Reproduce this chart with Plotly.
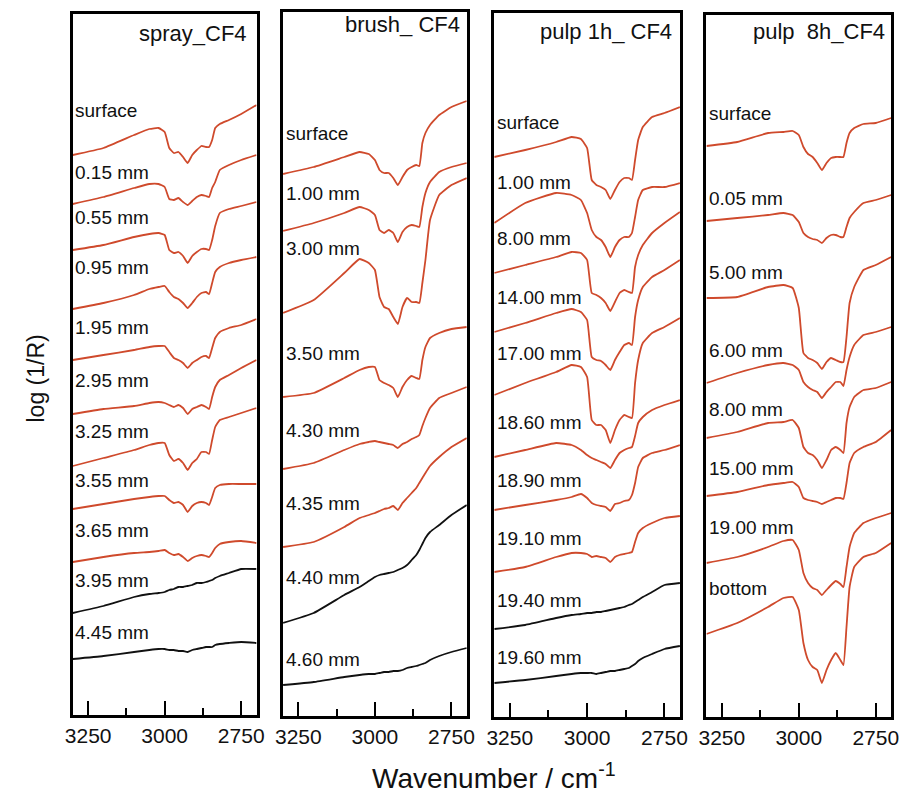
import plotly.graph_objects as go

# ---------------- DATA ----------------
WN = [3300, 3200, 3100, 3050, 3020, 3000, 2985, 2970, 2955, 2940, 2925,
      2910, 2895, 2880, 2865, 2855, 2845, 2835, 2820, 2790, 2750, 2700]

TICK_VALS = [3250, 3000, 2750]
TICK_TEXT = ["3250", "3000", "2750"]
MINOR_TICK_VALS = [3125, 2875]

PANEL_TITLES = ["spray_CF4", "brush_ CF4", "pulp 1h_ CF4", "pulp\u00a0 8h_CF4"]

SPRAY_LABELS = ["surface", "0.15 mm", "0.55 mm", "0.95 mm", "1.95 mm", "2.95 mm",
                "3.25 mm", "3.55 mm", "3.65 mm", "3.95 mm", "4.45 mm"]
SPRAY_Y = [
    [561, 568, 581, 587, 588, 584, 568, 563, 564, 559, 553, 561, 566, 570, 569, 569, 576, 588, 592, 596, 602, 611],
    [512, 519, 528, 532, 532, 529, 517, 516, 518, 514, 511, 515, 519, 521, 520, 519, 528, 534, 546, 551, 556, 561],
    [466, 471, 479, 482, 483, 481, 466, 463, 464, 460, 453, 460, 464, 467, 467, 466, 476, 490, 503, 507, 510, 514],
    [407, 413, 421, 427, 429, 430, 424, 419, 417, 413, 408, 413, 419, 423, 424, 422, 433, 444, 449, 453, 456, 459],
    [356, 361, 366, 369, 370, 370, 364, 358, 356, 353, 348, 353, 356, 359, 360, 358, 368, 378, 384, 388, 391, 397],
    [302, 307, 310, 313, 314, 313, 311, 309, 311, 308, 302, 307, 309, 311, 309, 307, 319, 329, 336, 341, 348, 356],
    [250, 258, 266, 271, 273, 273, 261, 255, 257, 253, 246, 253, 257, 264, 264, 262, 276, 289, 296, 299, 303, 308],
    [207, 212, 217, 219, 220, 220, 216, 213, 214, 211, 204, 210, 213, 214, 213, 211, 219, 228, 231, 232, 232, 232],
    [154, 159, 163, 164, 165, 166, 163, 161, 162, 159, 155, 158, 160, 161, 160, 159, 163, 168, 172, 174, 175, 173],
    [103, 110, 119, 122, 123, 124, 126, 127, 129, 129, 130, 131, 133, 133, 134, 135, 136, 138, 140, 143, 147, 147],
    [57, 60, 64, 66, 67, 67, 66, 66, 65, 65, 64, 66, 67, 68, 69, 69, 69, 71, 72, 73, 74, 73],
]

BRUSH_LABELS = ["surface", "1.00 mm", "3.00 mm", "3.50 mm", "4.30 mm", "4.35 mm",
                "4.40 mm", "4.60 mm"]
BRUSH_Y = [
    [542, 549, 559, 564, 562, 556, 546, 543, 543, 538, 531, 539, 546, 549, 551, 550, 573, 583, 591, 601, 609, 615],
    [485, 493, 503, 509, 506, 501, 486, 483, 486, 483, 474, 484, 489, 491, 490, 489, 509, 523, 534, 544, 549, 553],
    [403, 416, 443, 457, 453, 446, 419, 409, 407, 399, 392, 409, 418, 414, 414, 413, 433, 456, 496, 521, 531, 538],
    [319, 323, 338, 346, 349, 349, 336, 333, 331, 328, 319, 329, 336, 340, 338, 337, 356, 369, 378, 383, 387, 389],
    [247, 253, 266, 272, 274, 275, 274, 273, 272, 271, 268, 272, 274, 277, 279, 281, 290, 298, 308, 318, 323, 329],
    [169, 174, 189, 198, 201, 203, 205, 207, 208, 210, 206, 213, 218, 223, 228, 233, 238, 243, 250, 259, 269, 278],
    [93, 103, 121, 129, 135, 139, 141, 142, 143, 144, 146, 148, 151, 156, 161, 166, 172, 178, 184, 191, 201, 211],
    [31, 34, 39, 41, 42, 42, 43, 44, 44, 45, 45, 46, 48, 49, 50, 51, 52, 53, 56, 60, 64, 68],
]

PULP1H_LABELS = ["surface", "1.00 mm", "8.00 mm", "14.00 mm", "17.00 mm", "18.60 mm",
                 "18.90 mm", "19.10 mm", "19.40 mm", "19.60 mm"]
PULP1H_Y = [
    [559, 566, 574, 579, 577, 568, 536, 531, 529, 526, 517, 526, 534, 538, 538, 536, 556, 576, 589, 599, 603, 609],
    [493, 513, 523, 521, 516, 503, 486, 479, 476, 469, 459, 469, 476, 479, 479, 483, 499, 516, 526, 529, 529, 533],
    [443, 451, 459, 464, 463, 456, 423, 421, 418, 413, 405, 414, 423, 426, 424, 423, 449, 461, 471, 483, 493, 504],
    [384, 393, 403, 407, 404, 396, 359, 356, 355, 351, 346, 356, 364, 371, 373, 371, 399, 416, 429, 439, 446, 456],
    [321, 333, 344, 351, 349, 339, 296, 291, 291, 286, 273, 286, 296, 301, 299, 298, 333, 356, 373, 383, 389, 398],
    [259, 266, 273, 271, 266, 261, 258, 256, 254, 252, 248, 256, 263, 266, 268, 269, 280, 293, 299, 306, 311, 316],
    [206, 211, 216, 219, 222, 218, 213, 211, 210, 209, 205, 212, 213, 215, 216, 221, 233, 249, 258, 263, 266, 271],
    [144, 149, 159, 163, 163, 162, 159, 160, 159, 158, 154, 159, 161, 162, 163, 164, 174, 183, 188, 193, 198, 200],
    [87, 91, 98, 101, 102, 103, 103, 104, 104, 105, 106, 107, 108, 109, 111, 112, 114, 116, 119, 124, 131, 133],
    [33, 36, 40, 42, 43, 43, 43, 42, 43, 44, 45, 45, 46, 47, 48, 50, 52, 55, 58, 62, 67, 70],
]

PULP8H_LABELS = ["surface", "0.05 mm", "5.00 mm", "6.00 mm", "8.00 mm", "15.00 mm",
                 "19.00 mm", "bottom"]
PULP8H_Y = [
    [570, 574, 583, 584, 585, 581, 569, 562, 559, 553, 546, 553, 558, 559, 559, 559, 573, 583, 588, 592, 593, 598],
    [495, 498, 501, 503, 501, 494, 483, 479, 477, 476, 473, 478, 481, 481, 479, 479, 489, 498, 504, 513, 516, 521],
    [418, 419, 429, 431, 428, 408, 363, 358, 356, 353, 347, 354, 358, 356, 354, 354, 379, 413, 429, 446, 451, 459],
    [333, 343, 351, 353, 351, 346, 334, 329, 326, 324, 318, 324, 329, 334, 334, 330, 346, 359, 371, 381, 384, 389],
    [278, 284, 293, 294, 296, 288, 269, 263, 261, 256, 248, 256, 266, 269, 266, 263, 293, 309, 319, 326, 328, 334],
    [220, 224, 231, 233, 234, 229, 218, 216, 215, 214, 212, 214, 216, 218, 218, 217, 233, 253, 263, 269, 274, 286],
    [153, 159, 169, 175, 176, 166, 143, 133, 128, 126, 121, 126, 131, 135, 132, 129, 149, 169, 183, 193, 198, 203],
    [82, 93, 109, 118, 119, 106, 73, 56, 49, 46, 33, 46, 56, 63, 56, 51, 89, 129, 149, 159, 163, 173],
]

# ---------------- LAYOUT / STYLE ----------------
W, H = 907, 795
BASE = 716  # pixel row used as zero for the stacked curve heights
RED = "#cf4a2c"
BLACK = "#111111"
FONT = "Liberation Sans, Arial, sans-serif"

# number of red (upper) curves per panel; the rest are black
N_RED = [9, 6, 8, 8]
# panel boxes in pixels: x0, x1, y0(top), y1(bottom)
BOXES = [(66, 253, 14, 715), (280, 467, 12, 716), (495, 684, 13, 717), (711, 899, 15, 717)]
# label heights (same units as curves)
LABEL_H = [
    [606, 544, 499, 449, 389, 336, 285, 236, 186, 136, 84],
    [583, 523, 468, 363, 286, 213, 139, 57],
    [594, 534, 478, 419, 363, 294, 236, 178, 116, 59],
    [603, 518, 444, 366, 307, 248, 189, 128],
]
TITLE_POS = [(2723, 683), (2715, 691), (2718, 684), (2712, 684)]
LABEL_X = [3298, 3297, 3297, 3297]

ALL_LABELS = [SPRAY_LABELS, BRUSH_LABELS, PULP1H_LABELS, PULP8H_LABELS]
ALL_Y = [SPRAY_Y, BRUSH_Y, PULP1H_Y, PULP8H_Y]

fig = go.Figure()
annotations = []
layout_axes = {}

for i in range(4):
    xa = "x" if i == 0 else f"x{i+1}"
    ya = "y" if i == 0 else f"y{i+1}"
    x0, x1, y0, y1 = BOXES[i]
    for j, ys in enumerate(ALL_Y[i]):
        color = RED if j < N_RED[i] else BLACK
        fig.add_trace(go.Scatter(x=WN, y=ys, mode="lines", xaxis=xa, yaxis=ya,
                                 line=dict(color=color, width=1.8, shape="spline", smoothing=0.4),
                                 showlegend=False, hoverinfo="skip"))
    for lab, lh in zip(ALL_LABELS[i], LABEL_H[i]):
        annotations.append(dict(x=LABEL_X[i], y=lh, xref=xa, yref=ya, text=lab,
                                showarrow=False, xanchor="left", yanchor="middle",
                                font=dict(size=19, color="#111", family=FONT)))
    tx, ty = TITLE_POS[i]
    annotations.append(dict(x=tx, y=ty, xref=xa, yref=ya, text=PANEL_TITLES[i],
                            showarrow=False, xanchor="right", yanchor="middle",
                            font=dict(size=22, color="#111", family=FONT)))
    key = "" if i == 0 else str(i + 1)
    layout_axes["xaxis" + key] = dict(
        domain=[x0 / W, x1 / W], range=[3300, 2700], anchor=ya,
        showline=True, linecolor="black", linewidth=2.5, mirror=True,
        showgrid=False, zeroline=False,
        tickmode="array", tickvals=TICK_VALS, ticktext=TICK_TEXT,
        ticks="inside", ticklen=14, tickwidth=2, tickcolor="black",
        tickfont=dict(size=21, color="#111", family=FONT),
        minor=dict(tickmode="array", tickvals=MINOR_TICK_VALS, ticks="inside",
                   ticklen=7, tickwidth=2, tickcolor="black"),
    )
    layout_axes["yaxis" + key] = dict(
        domain=[1 - y1 / H, 1 - y0 / H], range=[BASE - y1, BASE - y0], anchor=xa,
        showline=True, linecolor="black", linewidth=2.5, mirror=True,
        showgrid=False, zeroline=False, showticklabels=False, ticks="",
    )

annotations.append(dict(x=29 / W, y=1 - 378 / H, xref="paper", yref="paper",
                        text="log (1/R)", textangle=-90, showarrow=False,
                        xanchor="center", yanchor="middle",
                        font=dict(size=23, color="#111", family=FONT)))
annotations.append(dict(x=495 / W, y=1 - 776 / H, xref="paper", yref="paper",
                        text="Wavenumber / cm<sup>-1</sup>", showarrow=False,
                        xanchor="center", yanchor="middle",
                        font=dict(size=28, color="#111", family=FONT)))

fig.update_layout(width=W, height=H, margin=dict(l=0, r=0, t=0, b=0),
                  paper_bgcolor="white", plot_bgcolor="white",
                  annotations=annotations, **layout_axes)

fig.write_html("out.html")
